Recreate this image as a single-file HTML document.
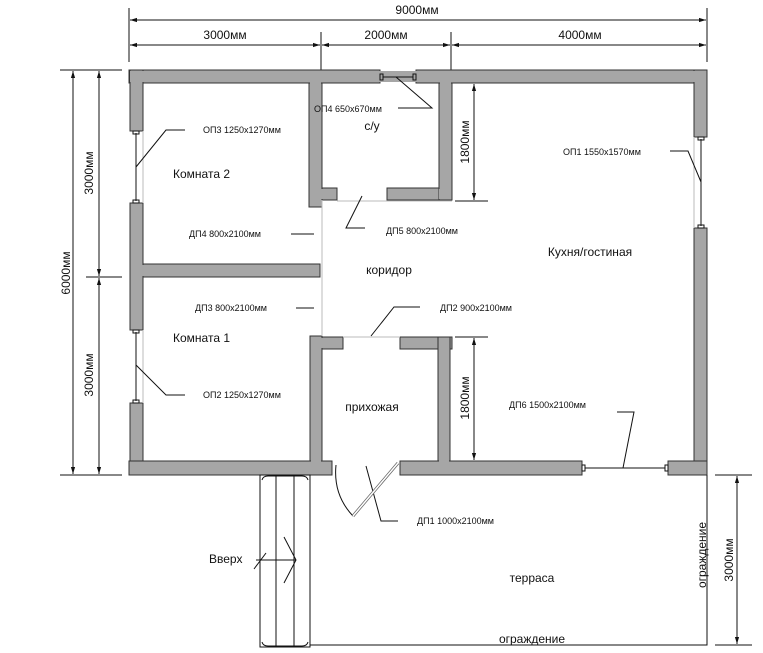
<!DOCTYPE html>
<html><head><meta charset="utf-8"><style>
html,body{margin:0;padding:0;background:#fff;}
svg{display:block;}
text{font-family:"Liberation Sans",sans-serif;fill:#111;}
</style></head><body>
<svg width="763" height="653" viewBox="0 0 763 653" xmlns="http://www.w3.org/2000/svg">
<defs>
<marker id="a" viewBox="0 0 10 10" refX="10" refY="5" markerWidth="7" markerHeight="7" orient="auto-start-reverse"><path d="M0,2 L10,5 L0,8 z" fill="#111"/></marker>
</defs>
<g stroke="#111" stroke-width="1" fill="none">
<!-- top dims -->
<line x1="129" y1="8" x2="129" y2="62"/><line x1="707" y1="8" x2="707" y2="62"/>
<line x1="321" y1="32" x2="321" y2="76"/><line x1="451" y1="32" x2="451" y2="76"/>
<line x1="130" y1="20" x2="706" y2="20" marker-start="url(#a)" marker-end="url(#a)"/>
<line x1="130" y1="45" x2="320" y2="45" marker-start="url(#a)" marker-end="url(#a)"/>
<line x1="322" y1="45" x2="450" y2="45" marker-start="url(#a)" marker-end="url(#a)"/>
<line x1="452" y1="45" x2="706" y2="45" marker-start="url(#a)" marker-end="url(#a)"/>
<!-- left dims -->
<line x1="60" y1="70" x2="122" y2="70"/><line x1="60" y1="475" x2="122" y2="475"/>
<line x1="86" y1="277" x2="122" y2="277"/>
<line x1="73" y1="71" x2="73" y2="474" marker-start="url(#a)" marker-end="url(#a)"/>
<line x1="99" y1="71" x2="99" y2="276" marker-start="url(#a)" marker-end="url(#a)"/>
<line x1="99" y1="278" x2="99" y2="474" marker-start="url(#a)" marker-end="url(#a)"/>
<!-- 1800 dims -->
<line x1="455" y1="83" x2="488" y2="83"/><line x1="455" y1="201" x2="488" y2="201"/>
<line x1="474" y1="84" x2="474" y2="200" marker-start="url(#a)" marker-end="url(#a)"/>
<line x1="455" y1="337" x2="488" y2="337"/><line x1="455" y1="461" x2="488" y2="461"/>
<line x1="474" y1="338" x2="474" y2="460" marker-start="url(#a)" marker-end="url(#a)"/>
<!-- right 3000 -->
<line x1="715" y1="475" x2="752" y2="475"/><line x1="715" y1="645" x2="752" y2="645"/>
<line x1="737" y1="476" x2="737" y2="644" marker-start="url(#a)" marker-end="url(#a)"/>
</g>
<!-- walls -->
<g fill="#a6a6a6" stroke="#333" stroke-width="1">
<rect x="129" y="70" width="251" height="13"/>
<rect x="416" y="70" width="291" height="13"/>
<rect x="130" y="70" width="13" height="61"/>
<rect x="130" y="203" width="13" height="127"/>
<rect x="130" y="403" width="13" height="72"/>
<rect x="694" y="70" width="13" height="67"/>
<rect x="694" y="228" width="13" height="247"/>
<rect x="129" y="461" width="203" height="14"/>
<rect x="400" y="461" width="182" height="14"/>
<rect x="668" y="461" width="39" height="14"/>
<rect x="143" y="264" width="177" height="13"/>
<rect x="309" y="83" width="13" height="124"/>
<rect x="322" y="188" width="15" height="12"/>
<rect x="387" y="188" width="65" height="12"/>
<rect x="439" y="83" width="13" height="117"/>
<rect x="310" y="336" width="12" height="125"/>
<rect x="322" y="337" width="21" height="12"/>
<rect x="400" y="337" width="52" height="12"/>
<rect x="438" y="337" width="12" height="124"/>
</g>
<!-- cover inner seams -->
<g fill="#a6a6a6">
<rect x="130" y="71" width="576" height="11"/>
<rect x="131" y="71" width="11" height="59"/>
<rect x="695" y="71" width="11" height="65"/>
<rect x="310" y="82" width="11" height="3"/><rect x="440" y="82" width="11" height="3"/>
<rect x="131" y="265" width="13" height="11"/>
<rect x="131" y="462" width="200" height="12"/><rect x="311" y="460" width="10" height="3"/>
<rect x="439" y="460" width="10" height="3"/>
<rect x="695" y="462" width="11" height="12"/>
<rect x="311" y="338" width="12" height="10"/><rect x="439" y="338" width="10" height="10"/>
<rect x="321" y="189" width="15" height="10"/><rect x="439" y="189" width="12" height="10"/>
</g>
<g stroke="#333" stroke-width="1" fill="none">
<polyline points="143,131 143,83 309,83 309,207"/>
<line x1="322" y1="83" x2="322" y2="188"/>
<polyline points="322,83 380,83"/><polyline points="416,83 439,83 439,188"/>
<polyline points="452,83 694,83 694,137"/>
<line x1="143" y1="203" x2="143" y2="264"/><line x1="143" y1="277" x2="143" y2="330"/>
<line x1="143" y1="264" x2="309" y2="264"/><line x1="143" y1="277" x2="310" y2="277"/>
<line x1="143" y1="403" x2="143" y2="461"/><line x1="143" y1="461" x2="310" y2="461"/>
<line x1="322" y1="349" x2="322" y2="461"/><line x1="322" y1="349" x2="343" y2="349"/>
<line x1="400" y1="349" x2="438" y2="349"/><line x1="438" y1="349" x2="438" y2="461"/>
<line x1="322" y1="461" x2="332" y2="461"/><line x1="400" y1="461" x2="438" y2="461"/>
<line x1="450" y1="349" x2="450" y2="461"/><line x1="450" y1="461" x2="582" y2="461"/>
<line x1="452" y1="200" x2="452" y2="83"/>
<line x1="668" y1="461" x2="694" y2="461"/><line x1="694" y1="228" x2="694" y2="461"/>
<line x1="337" y1="188" x2="337" y2="200"/><line x1="387" y1="188" x2="387" y2="200"/>
<line x1="343" y1="337" x2="343" y2="349"/><line x1="400" y1="337" x2="400" y2="349"/>
</g>
<!-- thin openings -->
<g stroke="#bbb" stroke-width="1" fill="none">
<line x1="322" y1="200" x2="322" y2="336"/>
<line x1="337" y1="201" x2="452" y2="201"/>
<line x1="343" y1="337" x2="400" y2="337"/>
<line x1="143" y1="131" x2="143" y2="203"/><line x1="143" y1="330" x2="143" y2="403"/>
<line x1="694" y1="137" x2="694" y2="228"/>
</g>
<!-- windows -->
<g stroke="#111" stroke-width="1" fill="none">
<line x1="136" y1="133" x2="136" y2="201"/><rect x="133" y="131" width="6" height="3"/><rect x="133" y="200" width="6" height="3"/>
<line x1="136" y1="332" x2="136" y2="401"/><rect x="133" y="330" width="6" height="3"/><rect x="133" y="400" width="6" height="3"/>
<line x1="701" y1="139" x2="701" y2="226"/><rect x="698" y="137" width="6" height="3"/><rect x="698" y="225" width="6" height="3"/>
<line x1="383" y1="77" x2="413" y2="77"/><rect x="380" y="74" width="3" height="6"/><rect x="413" y="74" width="3" height="6"/>
<line x1="585" y1="468" x2="665" y2="468"/><rect x="582" y="465" width="3" height="6"/><rect x="665" y="465" width="3" height="6"/>
<!-- leaders -->
<polyline points="136,167 166,130 185,130"/>
<polyline points="136,365 166,395 185,395"/>
<polyline points="701,182 688,151 670,151"/>
<polyline points="396,77 432,108 398,108"/>
<polyline points="362,196 346,228 365,228"/>
<polyline points="291,234 314,234"/>
<polyline points="296,308 314,308"/>
<polyline points="371,336 394,307 420,307"/>
<polyline points="623,468 634,412 617,412"/>
<polyline points="366,466 381,521 398,521"/>
<!-- door DP1 -->
<path d="M336,465 Q333,495 353,516" />
<line x1="353" y1="516" x2="398" y2="463" stroke-width="3" stroke="#666"/>
<line x1="353" y1="516" x2="398" y2="463" stroke-width="1.5" stroke="#fff"/>
<!-- terrace -->
<polyline points="310,475 310,645 707,645 707,475"/>
<!-- stairs -->
<rect x="260" y="475" width="50" height="172"/>
<line x1="276" y1="475" x2="276" y2="647"/><line x1="294" y1="475" x2="294" y2="647"/>
<path d="M262,480 Q263,476 268,476 L302,476 Q307,476 308,480"/>
<path d="M262,642 Q263,646 268,646 L302,646 Q307,646 308,642"/>
<line x1="256" y1="560" x2="296" y2="560"/>
<polyline points="284,537 296,560 284,583"/>
<line x1="254" y1="569" x2="266" y2="553"/>
</g>
<!-- text -->
<g font-size="12">
<text x="417" y="14" text-anchor="middle">9000мм</text>
<text x="225" y="39" text-anchor="middle">3000мм</text>
<text x="386" y="39" text-anchor="middle">2000мм</text>
<text x="580" y="39" text-anchor="middle">4000мм</text>
<text transform="translate(70,273) rotate(-90)" text-anchor="middle">6000мм</text>
<text transform="translate(93,173) rotate(-90)" text-anchor="middle">3000мм</text>
<text transform="translate(93,375) rotate(-90)" text-anchor="middle">3000мм</text>
<text transform="translate(469,142) rotate(-90)" text-anchor="middle">1800мм</text>
<text transform="translate(469,398) rotate(-90)" text-anchor="middle">1800мм</text>
<text transform="translate(733,560) rotate(-90)" text-anchor="middle">3000мм</text>
<text transform="translate(706,555) rotate(-90)" text-anchor="middle">ограждение</text>
<text x="173" y="178">Комната 2</text>
<text x="173" y="342">Комната 1</text>
<text x="372" y="130" text-anchor="middle">с/у</text>
<text x="389" y="274" text-anchor="middle">коридор</text>
<text x="372" y="411" text-anchor="middle">прихожая</text>
<text x="590" y="256" text-anchor="middle">Кухня/гостиная</text>
<text x="532" y="582" text-anchor="middle">терраса</text>
<text x="532" y="643" text-anchor="middle">ограждение</text>
<text x="209" y="563">Вверх</text>
</g>
<g font-size="9">
<text x="203" y="133">ОП3 1250x1270мм</text>
<text x="203" y="398">ОП2 1250x1270мм</text>
<text x="563" y="155">ОП1 1550x1570мм</text>
<text x="314" y="112">ОП4 650x670мм</text>
<text x="189" y="237">ДП4 800x2100мм</text>
<text x="386" y="234">ДП5 800x2100мм</text>
<text x="195" y="311">ДП3 800x2100мм</text>
<text x="440" y="311">ДП2 900x2100мм</text>
<text x="509" y="408">ДП6 1500x2100мм</text>
<text x="417" y="524">ДП1 1000x2100мм</text>
</g>
</svg>
</body></html>
